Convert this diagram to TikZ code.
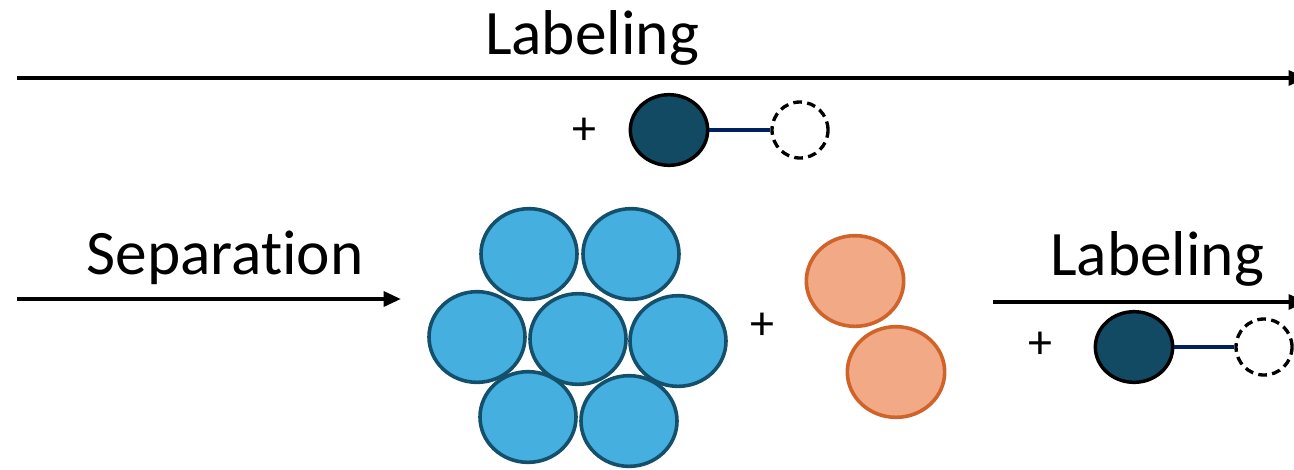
\documentclass[tikz,border=0pt]{standalone}
\usepackage{fontspec}
\setmainfont[Ligatures=NoCommon]{Carlito}
\usetikzlibrary{arrows.meta,shapes.geometric}

\definecolor{dyecol}{HTML}{124A63}
\definecolor{linkcol}{HTML}{002060}
\definecolor{bluefill}{HTML}{45AFDF}
\definecolor{bluedraw}{HTML}{144F6C}
\definecolor{orfill}{HTML}{F2A985}
\definecolor{ordraw}{HTML}{CF6329}

\tikzset{
  bigtext/.style={font=\fontsize{47.5}{52}\selectfont},
  plustext/.style={font=\fontsize{36}{40}\selectfont},
  stepline/.style={line width=3pt,-{Triangle[length=13pt,width=11pt]}},
  dye/.style={ellipse,draw=black,line width=2.6pt,fill=dyecol,minimum width=58pt,minimum height=53pt,inner sep=0pt},
  tag/.style={circle,draw=black,dash pattern=on 6.5pt off 4pt,line width=2.5pt,minimum size=42pt,inner sep=0pt},
  link/.style={linkcol,line width=3pt},
  bluebead/.style={ellipse,draw=bluedraw,line width=2.7pt,fill=bluefill,minimum width=72pt,minimum height=68pt,inner sep=0pt},
  orbead/.style={ellipse,draw=ordraw,line width=2.7pt,fill=orfill,minimum width=73pt,minimum height=68pt,inner sep=0pt}
}

\begin{document}
\begin{tikzpicture}[x=0.75pt,y=-0.75pt]
\useasboundingbox (0,0) rectangle (1294,469);

% top step
\coordinate (topstart) at (17,78);
\coordinate (topend) at (1306,78);
\draw[stepline] (topstart) -- (topend);
\node[bigtext] (toplabel) at (592,38) {Labeling};
\node[plustext] (topplus) at (584,131) {+};
\node[dye] (topdye) at (669,130) {};
\node[tag] (toptag) at (800,130) {};
\draw[link] (topdye.east) -- (toptag.west);

% separation step
\coordinate (sepstart) at (17,299);
\coordinate (sepend) at (401,299);
\draw[stepline] (sepstart) -- (sepend);
\node[bigtext] (seplabel) at (225,258) {Separation};

% bound beads
\node[bluebead] (b1) at (529,254) {};
\node[bluebead] (b2) at (631,254) {};
\node[bluebead] (b3) at (477,337) {};
\node[bluebead] (b4) at (578,339) {};
\node[bluebead] (b5) at (678,341) {};
\node[bluebead] (b6) at (528,417) {};
\node[bluebead] (b7) at (629,421) {};

\node[plustext] (midplus) at (762,326) {+};

% free beads
\node[orbead] (o1) at (855,281) {};
\node[orbead] (o2) at (896,372) {};

% second labeling step
\coordinate (lowstart) at (993,302);
\coordinate (lowend) at (1306,302);
\draw[stepline] (lowstart) -- (lowend);
\node[bigtext] (lowlabel) at (1157,259) {Labeling};
\node[plustext] (lowplus) at (1040,345) {+};
\node[dye] (lowdye) at (1134,347) {};
\node[tag] (lowtag) at (1264,347) {};
\draw[link] (lowdye.east) -- (lowtag.west);

\end{tikzpicture}
\end{document}
